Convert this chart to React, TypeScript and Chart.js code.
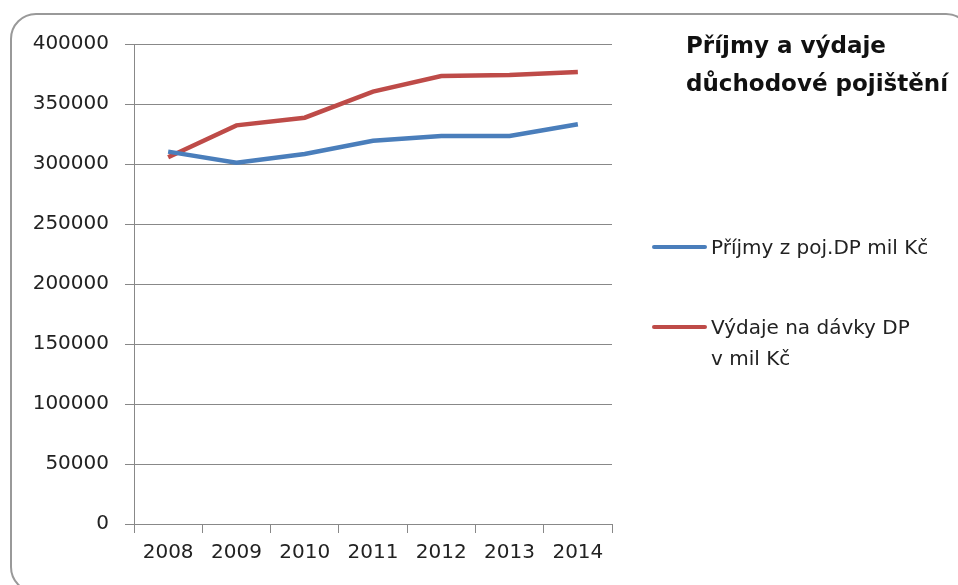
import React, { useEffect, useRef } from "react";
import { Chart, registerables } from "chart.js";

Chart.register(...registerables);

const years = ["2008", "2009", "2010", "2011", "2012", "2013", "2014"];
const prijmy = [310300, 301000, 308300, 319400, 323300, 323300, 333100];
const vydaje = [305600, 332200, 338600, 360300, 373300, 374200, 376700];
const titleLines = ["Příjmy a výdaje", "důchodové pojištění"];
const prijmyLabel = "Příjmy z poj.DP mil Kč";
const vydajeLabel = ["Výdaje na dávky DP", "v mil Kč"];

const BLUE = "#4a7ebb";
const RED = "#be4b48";
const FONT = "'DejaVu Sans', sans-serif";

export default function App() {
  const ref = useRef<HTMLCanvasElement | null>(null);

  useEffect(() => {
    if (!ref.current) return;
    const chart = new Chart(ref.current, {
      type: "line",
      data: {
        labels: years,
        datasets: [
          {
            label: prijmyLabel,
            data: prijmy,
            borderColor: BLUE,
            backgroundColor: BLUE,
            borderWidth: 4.5,
            pointRadius: 0,
            tension: 0,
          },
          {
            label: vydajeLabel.join(" "),
            data: vydaje,
            borderColor: RED,
            backgroundColor: RED,
            borderWidth: 4.5,
            pointRadius: 0,
            tension: 0,
          },
        ],
      },
      options: {
        animation: false,
        responsive: false,
        maintainAspectRatio: false,
        layout: { padding: { left: 0, right: 346, top: 44, bottom: 0 } },
        plugins: { legend: { display: false }, title: { display: false }, tooltip: { enabled: false } },
        scales: {
          x: {
            offset: true,
            afterFit: (s: any) => { s.height = 61; },
            grid: {
              display: true,
              drawOnChartArea: false,
              drawTicks: true,
              tickLength: 9,
              color: "#888888",
              offset: true,
            },
            border: { display: true, color: "#888888", width: 1 },
            ticks: {
              color: "#222222",
              font: { family: FONT, size: 20 },
              padding: 8,
              maxRotation: 0,
              autoSkip: false,
            },
          },
          y: {
            min: 0,
            max: 400000,
            afterFit: (s: any) => { s.width = 134; },
            grid: {
              display: true,
              drawOnChartArea: true,
              drawTicks: true,
              tickLength: 9,
              color: "#888888",
            },
            border: { display: true, color: "#888888", width: 1 },
            ticks: {
              stepSize: 50000,
              color: "#222222",
              font: { family: FONT, size: 20 },
              padding: 16,
              callback: (v: any) => String(v),
            },
          },
        },
      },
    });
    return () => chart.destroy();
  }, []);

  const textStyle: React.CSSProperties = {
    position: "absolute",
    fontFamily: FONT,
    color: "#222222",
    whiteSpace: "nowrap",
  };

  return (
    <div style={{ position: "absolute", left: 0, top: 0, width: 958, height: 585, overflow: "hidden", background: "#ffffff" }}>
      <div
        style={{
          position: "absolute",
          left: 10,
          top: 13,
          width: 962,
          height: 580,
          border: "2px solid #999999",
          borderRadius: 26,
          boxSizing: "border-box",
        }}
      />
      <canvas ref={ref} width={958} height={585} style={{ position: "absolute", left: 0, top: 0, width: 958, height: 585 }} />
      <div style={{ ...textStyle, left: 686, top: 26, fontSize: 23, fontWeight: "bold", lineHeight: "38px", color: "#111111" }}>
        {titleLines.map((t, i) => (
          <div key={i}>{t}</div>
        ))}
      </div>
      <div style={{ position: "absolute", left: 652, top: 245, width: 55, height: 4, background: BLUE, borderRadius: 2 }} />
      <div style={{ ...textStyle, left: 711, top: 232, fontSize: 20, lineHeight: "30px" }}>{prijmyLabel}</div>
      <div style={{ position: "absolute", left: 652, top: 325, width: 55, height: 4, background: RED, borderRadius: 2 }} />
      <div style={{ ...textStyle, left: 711, top: 312, fontSize: 20, lineHeight: "31px" }}>
        {vydajeLabel.map((t, i) => (
          <div key={i}>{t}</div>
        ))}
      </div>
    </div>
  );
}
